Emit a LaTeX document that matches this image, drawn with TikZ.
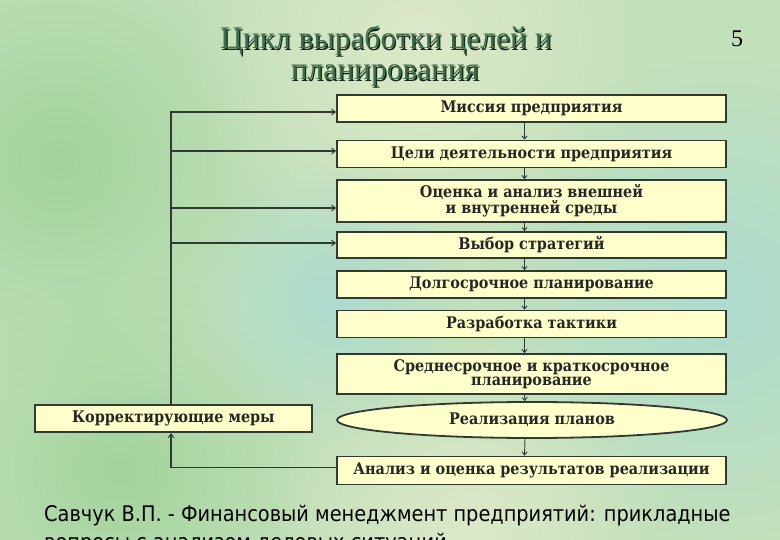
\documentclass[tikz,border=0pt]{standalone}
\usepackage{fontspec}
\setmainfont{Liberation Serif}
\newfontfamily\boxfont{DejaVu Serif Condensed}
\newfontfamily\citefont{DejaVu Sans Condensed}
\usetikzlibrary{arrows.meta,shapes.geometric,fadings,calc}
\tikzfading[name=softball, inner color=transparent!0, outer color=transparent!100]
\definecolor{boxfill}{HTML}{FFFFCC}
\definecolor{boxline}{HTML}{2F3A33}
\definecolor{titlecol}{HTML}{3F6E4D}
\definecolor{titleshadow}{HTML}{17241B}
\definecolor{bgbase}{HTML}{C2E0BA}
\definecolor{bggreen}{HTML}{A2D39C}
\definecolor{bgpale}{HTML}{DDE9C8}
\definecolor{bgcyan}{HTML}{ADDBCF}
\begin{document}
\begin{tikzpicture}[x=1pt,y=-1pt,
  stage/.style={draw=boxline,line width=1.8pt,fill=boxfill,minimum width=389pt,inner sep=0pt,align=center,
    font=\boxfont\bfseries\fontsize{16}{16}\selectfont,text=black!85},
  fb/.style={draw=boxline,line width=1.8pt,-{Straight Barb[length=4pt,width=6pt,line width=0.9pt]}},
  dn/.style={draw=boxline,line width=0.9pt,-{Straight Barb[length=3pt,width=5pt]}},
  ttl/.style={anchor=base,font=\fontsize{31.5}{33}\selectfont,inner sep=0pt},
  blob/.style={path fading=softball}]
\clip (0,0) rectangle (780,540);
% background
\fill[bgbase] (0,0) rectangle (780,540);
\fill[bggreen,blob] (60,160) circle (230);
\fill[bgpale,blob] (420,40) circle (240);
\fill[bgcyan,blob] (720,300) circle (240);
\fill[bggreen,blob] (120,470) circle (200);
\fill[bgpale,blob] (470,530) circle (200);
\fill[bgcyan,blob] (330,300) circle (140);
% title
\node[ttl,text=titleshadow] at (387.2,50.2) {Цикл выработки целей и};
\node[ttl,text=titleshadow] at (386.2,81.2) {планирования};
\node[ttl,text=titlecol] (t1) at (386,49) {Цикл выработки целей и};
\node[ttl,text=titlecol] (t2) at (385,80) {планирования};
\node[anchor=base,font=\fontsize{24}{24}\selectfont] (pg) at (737,47) {5};
% stages
\node[stage,minimum height=27pt] (b1) at (531.5,108.5) {Миссия предприятия};
\node[stage,minimum height=27pt] (b2) at (531.5,154) {Цели деятельности предприятия};
\node[stage,minimum height=42pt] (b3) at (531.5,201) {Оценка и анализ внешней\\и внутренней среды};
\node[stage,minimum height=26pt] (b4) at (531.5,245) {Выбор стратегий};
\node[stage,minimum height=27pt] (b5) at (531.5,284.5) {Долгосрочное планирование};
\node[stage,minimum height=27pt] (b6) at (531.5,324) {Разработка тактики};
\node[stage,minimum height=40pt,font=\boxfont\bfseries\fontsize{16}{14.5}\selectfont] (b7) at (531.5,374) {Среднесрочное и краткосрочное\\планирование};
\node[stage,ellipse,minimum width=390pt,minimum height=36pt] (e8) at (532,420) {Реализация планов};
\node[stage,minimum height=28pt] (b9) at (531.5,470.5) {Анализ и оценка результатов реализации};
\node[stage,minimum width=277pt,minimum height=27pt] (k) at (173.4,418.7) {Корректирующие меры};
% flow
\draw[dn] ([xshift=-7pt]b1.south) -- ([xshift=-7pt]b2.north);
\draw[dn] ([xshift=-7pt]b2.south) -- ([xshift=-7pt]b3.north);
\draw[dn] ([xshift=-7pt]b3.south) -- ([xshift=-7pt]b4.north);
\draw[dn] ([xshift=-7pt]b4.south) -- ([xshift=-7pt]b5.north);
\draw[dn] ([xshift=-7pt]b5.south) -- ([xshift=-7pt]b6.north);
\draw[dn] ([xshift=-7pt]b6.south) -- ([xshift=-7pt]b7.north);
\draw[dn] ([xshift=-7pt]b7.south) -- ([xshift=-7pt]e8.north);
\draw[dn] ([xshift=-7pt]e8.south) -- ([xshift=-7pt]b9.north);
% feedback
\coordinate (sp) at (171,0);
\draw[fb] (k.north -| sp) |- ([yshift=-3.5pt]b1.west);
\draw[fb] (k.north -| sp) |- ([yshift=3pt]b2.west);
\draw[fb] (k.north -| sp) |- ([yshift=-7pt]b3.west);
\draw[fb] (k.north -| sp) |- ([yshift=2pt]b4.west);
\draw[fb] ([yshift=3pt]b9.west) -| (k.south -| sp);
% citation
\node[anchor=base west,inner sep=0pt,font=\citefont\fontsize{21.5}{28}\selectfont] (c1) at (44,521) {Савчук В.П. - Финансовый менеджмент предприятий: прикладные};
\node[anchor=base west,inner sep=0pt,font=\citefont\fontsize{21.5}{28}\selectfont] (c2) at (44,549) {вопросы с анализом деловых ситуаций};
\end{tikzpicture}
\end{document}
